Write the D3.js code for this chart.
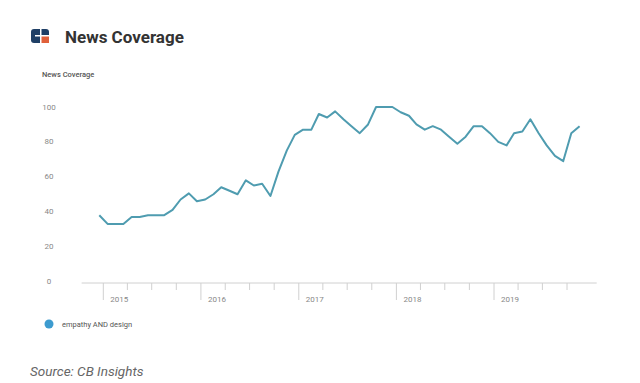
<!DOCTYPE html>
<html>
<head>
<meta charset="utf-8">
<script src="https://cdn.jsdelivr.net/npm/d3@7"></script>
<style>
  html, body { margin: 0; padding: 0; background: #fff; }
  svg { display: block; font-family: Roboto, "Noto Sans", sans-serif; }
</style>
</head>
<body>
<svg id="chart" width="640" height="383"></svg>
<script>
// ---- data ----
const startMonth = "2014-12";           // first monthly point
const seriesName = "empathy AND design";
const values = [
  38, 33, 33, 33, 37, 37, 38, 38, 38, 41, 47, 50.5,
  46, 47, 50, 54, 52, 50, 58, 55, 56, 49, 63, 75,
  84, 87, 87, 96, 94, 97.5, 93, 89, 85, 90, 100, 100,
  100, 97, 95, 90, 87, 89, 87, 83, 79, 83, 89, 89,
  85, 80, 78, 85, 86, 93, 85, 78, 72, 69, 85, 89
];
const yTicks = [0, 20, 40, 60, 80, 100];
const yearLabels = ["2015", "2016", "2017", "2018", "2019"];

// ---- build ----
const [sy, sm] = startMonth.split("-").map(Number);
const dates = values.map((v, i) => new Date(sy, sm - 1 + i, 17));
const data = values.map((v, i) => ({ date: dates[i], value: v }));

const svg = d3.select("#chart");

const x = d3.scaleTime()
  .domain([new Date(2015, 0, 1), new Date(2019, 0, 1)])
  .range([103.3, 494]);
const y = d3.scaleLinear().domain([0, 100]).range([281.5, 107]);

// header logo
const logo = svg.append("g").attr("transform", "translate(31,29)");
logo.append("rect").attr("width", 18).attr("height", 14).attr("rx", 3).attr("fill", "#1f3f66");
logo.append("rect").attr("x", 10).attr("y", 7).attr("width", 8).attr("height", 7).attr("fill", "#e0603a");
logo.append("rect").attr("x", 9).attr("y", 0).attr("width", 1.5).attr("height", 14).attr("fill", "#ffffff");
logo.append("rect").attr("x", 4).attr("y", 6).attr("width", 14).attr("height", 1.5).attr("fill", "#ffffff");

svg.append("text").attr("x", 65).attr("y", 43)
  .attr("font-size", 17).attr("font-weight", 700).attr("fill", "#333")
  .text("News Coverage");

svg.append("text").attr("x", 42).attr("y", 77)
  .attr("font-size", 7.5).attr("font-weight", 500).attr("fill", "#555")
  .text("News Coverage");

// y tick labels
svg.append("g").selectAll("text").data(yTicks).join("text")
  .attr("x", 49).attr("y", d => y(d) + 2.5)
  .attr("text-anchor", "middle")
  .attr("font-size", 8).attr("fill", "#888")
  .text(d => d);

// x axis
const axisY = 283;
svg.append("line")
  .attr("x1", x(new Date(2014, 9, 12))).attr("x2", x(new Date(2020, 0, 20)))
  .attr("y1", axisY).attr("y2", axisY)
  .attr("stroke", "#d0d0d0").attr("stroke-width", 1);

const quarterTicks = d3.timeMonth.every(3).range(new Date(2015, 0, 1), new Date(2019, 10, 1));
svg.append("g").selectAll("line").data(quarterTicks).join("line")
  .attr("x1", d => x(d)).attr("x2", d => x(d))
  .attr("y1", axisY)
  .attr("y2", d => d.getMonth() === 0 ? 300 : 290)
  .attr("stroke", "#d0d0d0").attr("stroke-width", 1);

svg.append("g").selectAll("text").data(yearLabels).join("text")
  .attr("x", d => x(new Date(+d, 0, 1)) + 7)
  .attr("y", 302)
  .attr("font-size", 8).attr("fill", "#888")
  .text(d => d);

// line
const line = d3.line().x(d => x(d.date)).y(d => y(d.value));
svg.append("path").datum(data)
  .attr("d", line)
  .attr("fill", "none")
  .attr("stroke", "#4f9cb0")
  .attr("stroke-width", 2)
  .attr("stroke-linejoin", "round");

// legend
svg.append("circle").attr("cx", 49).attr("cy", 324).attr("r", 4.5).attr("fill", "#3d9bcf");
svg.append("text").attr("x", 62).attr("y", 327)
  .attr("font-size", 7.5).attr("fill", "#555")
  .text(seriesName);

// source
svg.append("text").attr("x", 30).attr("y", 376)
  .attr("font-size", 13.5).attr("font-style", "italic").attr("fill", "#666")
  .text("Source: CB Insights");
</script>
</body>
</html>
